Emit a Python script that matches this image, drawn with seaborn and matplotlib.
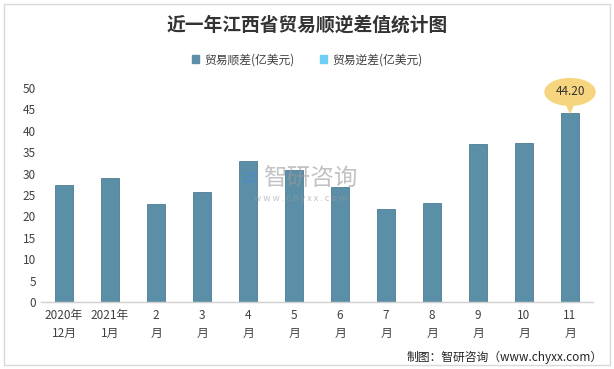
import matplotlib
matplotlib.use("Agg")
import matplotlib.pyplot as plt
from matplotlib.patches import Rectangle, Patch
import pandas as pd
import seaborn as sns

# data
months = ["2020年\n12月", "2021年\n1月", "2\n月", "3\n月", "4\n月", "5\n月",
          "6\n月", "7\n月", "8\n月", "9\n月", "10\n月", "11\n月"]
surplus = [27.3, 29.0, 22.9, 25.7, 32.9, 30.8, 26.9, 21.7, 23.1, 36.9, 37.1, 44.2]
series_names = ["贸易顺差(亿美元)", "贸易逆差(亿美元)"]
colors = ["#5B8FA8", "#6DCFF6"]

sns.set_style("white")
plt.rcParams["font.family"] = ["Noto Sans CJK SC", "DejaVu Sans"]

df = pd.DataFrame({"month": months, "value": surplus})

fig = plt.figure(figsize=(6.14, 3.69), dpi=100)
ax = fig.add_axes([0.0668, 0.1816, 0.899, 0.58])

sns.barplot(data=df, x="month", y="value", color=colors[0], width=0.41,
            saturation=1, edgecolor="#4E7C92", linewidth=0.6, ax=ax)

ax.set_ylim(0, 50)
ax.set_yticks(range(0, 51, 5))
ax.set_xlim(-0.5, len(months) - 0.5)
ax.set_xlabel("")
ax.set_ylabel("")
ax.tick_params(axis="both", length=0, labelsize=8.5, colors="#404040")
ax.tick_params(axis="x", pad=5)
for lbl in ax.get_xticklabels():
    lbl.set_linespacing(1.55)
for s in ["top", "right", "left"]:
    ax.spines[s].set_visible(False)
ax.spines["bottom"].set_color("#D0D0D0")
ax.spines["bottom"].set_linewidth(1)

# callout on the last bar
ax.annotate(f"{surplus[-1]:.2f}", xy=(len(months) - 1, surplus[-1]),
            xytext=(0, 15), textcoords="offset points", ha="center", va="center",
            fontsize=8.5, color="#333333",
            bbox=dict(boxstyle="ellipse,pad=0.25", fc="#F6D57E", ec="#F6D57E"),
            arrowprops=dict(arrowstyle="wedge,tail_width=0.5,shrink_factor=0.5",
                            fc="#F6D57E", ec="#F6D57E", shrinkA=0, shrinkB=0))

# title and legend
fig.text(0.5, 0.932, "近一年江西省贸易顺逆差值统计图", ha="center", va="center",
         fontsize=13.5, fontweight="bold", color="#333333")
handles = [Patch(color=c, label=n) for c, n in zip(colors, series_names)]
fig.legend(handles=handles, loc="center", bbox_to_anchor=(0.5, 0.838), ncol=2,
           frameon=False, fontsize=8.5, handlelength=0.6, handleheight=0.6,
           handletextpad=0.4, columnspacing=2.2, labelcolor="#404040")

# watermark
fig.text(0.505, 0.515, "智研咨询", ha="center", va="center", fontsize=17,
         color="#9A9A9A", alpha=0.6)
fig.text(0.49, 0.462, "w w w . c h y x x . c o m", ha="center", va="center",
         fontsize=6.5, color="#9A9A9A", alpha=0.6)
fig.text(0.405, 0.515, "ㄹ", ha="center", va="center", fontsize=16,
         color="#4A8CC8", alpha=0.5, fontweight="bold")

# source
fig.text(0.982, 0.032, "制图：智研咨询（www.chyxx.com）", ha="right", va="center",
         fontsize=8.5, color="#222222")

# outer border
fig.patches.append(Rectangle((0.006, 0.01), 0.988, 0.98, transform=fig.transFigure,
                             fill=False, ec="#D9D9D9", lw=1))

fig.savefig("out.png", dpi=100)
